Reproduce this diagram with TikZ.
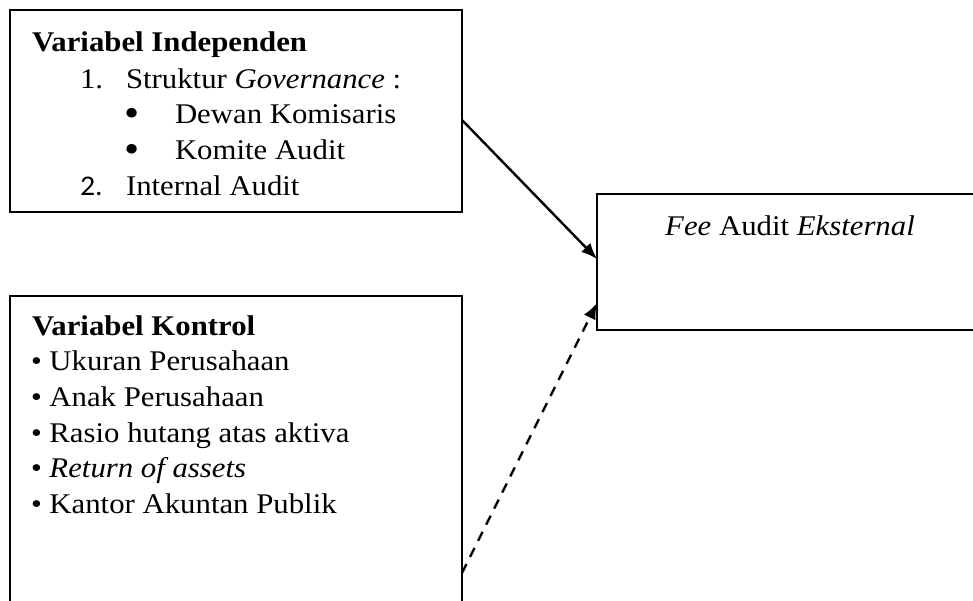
\documentclass[tikz,border=0pt]{standalone}
\usepackage{fontspec}
\setmainfont{Liberation Serif}[FakeStretch=1.08]
\newfontfamily\numfont{Carlito}[FakeStretch=1.05]
\usetikzlibrary{arrows.meta,calc}
\tikzset{
  frame/.style={draw=black, line width=2.6pt, rectangle, inner sep=0pt, outer sep=0pt, anchor=north west},
  txt/.style={anchor=base west, inner sep=0pt, outer sep=0pt, font=\fontsize{28.5}{34}\selectfont},
  bigbullet/.style={anchor=base west, inner sep=0pt, outer sep=0pt, font=\fontsize{40}{40}\selectfont},
  conn/.style={line width=2.4pt, -{Latex[length=16pt,width=13pt]}},
  dashconn/.style={conn, dash pattern=on 10pt off 8pt}
}
\begin{document}
\begin{tikzpicture}[x=1pt,y=-1pt]
\useasboundingbox (0,0) rectangle (973,600);
\clip (0,0) rectangle (973,600);
% boxes
\node[frame, minimum width=452pt, minimum height=202pt] (b1) at (10,10) {};
\node[frame, minimum width=452pt, minimum height=324pt] (b3) at (10,296) {};
\node[frame, minimum width=390pt, minimum height=136pt] (fee) at (597,194) {};
% box 1 text
\node[txt] (t1) at (32,51) {\textbf{Variabel Independen}};
\node[txt] (t2n) at (80,88) {1.};
\node[txt] (t2) at (126,88) {Struktur \textit{Governance} :};
\node[bigbullet] (bu1) at (124,126) {•};
\node[txt] (t3) at (175,123) {Dewan Komisaris};
\node[bigbullet] (bu2) at (124,162) {•};
\node[txt] (t4) at (175,159) {Komite Audit};
\node[txt] (t5n) at (80,195) {\numfont 2.};
\node[txt] (t5) at (126,195) {Internal Audit};
% box 3 text
\node[txt] (k0) at (32,335) {\textbf{Variabel Kontrol}};
\node[txt] (k1) at (31,370) {• Ukuran Perusahaan};
\node[txt] (k2) at (31,406) {• Anak Perusahaan};
\node[txt] (k3) at (31,442) {• Rasio hutang atas aktiva};
\node[txt] (k4) at (31,477) {• \textit{Return of assets}};
\node[txt] (k5) at (31,513) {• Kantor Akuntan Publik};
% fee label
\node[txt, anchor=base] (feelbl) at (790,235) {\textit{Fee} Audit \textit{Eksternal}};
% connectors
\coordinate (s1) at ($(b1.north east)+(0,110)$);
\coordinate (e1) at ($(fee.north west)+(0,65)$);
\coordinate (s2) at ($(b3.north east)+(0,277)$);
\coordinate (e2) at ($(fee.north west)+(0,109)$);
\draw[conn] (s1) -- (e1);
\draw[dashconn] (s2) -- (e2);
\end{tikzpicture}
\end{document}
